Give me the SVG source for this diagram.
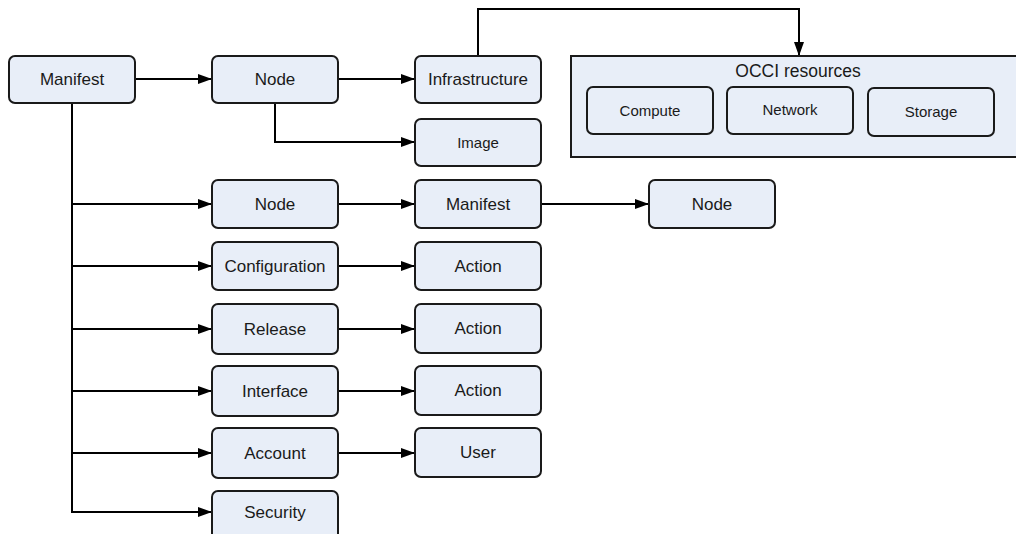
<svg xmlns="http://www.w3.org/2000/svg" width="1016" height="534" viewBox="0 0 1016 534">
<style>
.box{fill:#e8eef8;stroke:#1a1a1a;stroke-width:2}
.lbl{font-family:"Liberation Sans",Arial,sans-serif;font-size:17px;fill:#1a1a1a;text-anchor:middle;dominant-baseline:central}
.sm{font-size:15px}
.c{fill:none;stroke:#000;stroke-width:2}
</style>
<defs>
<marker id="ah" markerWidth="14" markerHeight="10" refX="13" refY="5" orient="auto" markerUnits="userSpaceOnUse">
<path d="M0,0 L14,5 L0,10 Z" fill="#000"/>
</marker>
</defs>
<rect x="0" y="0" width="1016" height="534" fill="#fff"/>
<g id="connectors">
<path class="c" d="M135,79 H211" marker-end="url(#ah)"/>
<path class="c" d="M338,79 H414" marker-end="url(#ah)"/>
<path class="c" d="M275,103 V142 H414" marker-end="url(#ah)"/>
<path class="c" d="M478,56 V9 H799 V55" marker-end="url(#ah)"/>
<path class="c" d="M72,103 V512 H211" marker-end="url(#ah)"/>
<path class="c" d="M72,204 H211" marker-end="url(#ah)"/>
<path class="c" d="M72,266 H211" marker-end="url(#ah)"/>
<path class="c" d="M72,329 H211" marker-end="url(#ah)"/>
<path class="c" d="M72,391 H211" marker-end="url(#ah)"/>
<path class="c" d="M72,453 H211" marker-end="url(#ah)"/>
<path class="c" d="M338,204 H414" marker-end="url(#ah)"/>
<path class="c" d="M541,204 H648" marker-end="url(#ah)"/>
<path class="c" d="M338,266 H414" marker-end="url(#ah)"/>
<path class="c" d="M338,329 H414" marker-end="url(#ah)"/>
<path class="c" d="M338,391 H414" marker-end="url(#ah)"/>
<path class="c" d="M338,453 H414" marker-end="url(#ah)"/>
</g>
<g id="manifest"><rect class="box" x="9" y="56" width="126" height="47" rx="6"/><text class="lbl" x="72" y="79.5">Manifest</text></g>
<g id="node1"><rect class="box" x="212" y="56" width="126" height="47" rx="6"/><text class="lbl" x="275" y="79.5">Node</text></g>
<g id="infrastructure"><rect class="box" x="415" y="56" width="126" height="47" rx="6"/><text class="lbl" x="478" y="79.5">Infrastructure</text></g>
<g id="image"><rect class="box" x="415" y="119" width="126" height="47" rx="6"/><text class="lbl sm" x="478" y="142.5">Image</text></g>
<g id="occi"><rect class="box" x="571" y="56" width="450" height="101"/><text class="lbl" x="798" y="71" style="font-size:17.5px">OCCI resources</text></g>
<g id="compute"><rect class="box" x="587" y="87" width="126" height="47" rx="6"/><text class="lbl sm" x="650" y="110.5">Compute</text></g>
<g id="network"><rect class="box" x="727" y="87" width="126" height="47" rx="6"/><text class="lbl sm" x="790" y="109.5">Network</text></g>
<g id="storage"><rect class="box" x="868" y="88" width="126" height="48" rx="6"/><text class="lbl sm" x="931" y="111.5">Storage</text></g>
<g id="node2"><rect class="box" x="212" y="180" width="126" height="48" rx="6"/><text class="lbl" x="275" y="204">Node</text></g>
<g id="manifest2"><rect class="box" x="415" y="180" width="126" height="48" rx="6"/><text class="lbl" x="478" y="204">Manifest</text></g>
<g id="node3"><rect class="box" x="649" y="180" width="126" height="48" rx="6"/><text class="lbl" x="712" y="204">Node</text></g>
<g id="configuration"><rect class="box" x="212" y="242" width="126" height="48" rx="6"/><text class="lbl" x="275" y="266">Configuration</text></g>
<g id="action1"><rect class="box" x="415" y="242" width="126" height="48" rx="6"/><text class="lbl" x="478" y="266">Action</text></g>
<g id="release"><rect class="box" x="212" y="304" width="126" height="50" rx="6"/><text class="lbl" x="275" y="329">Release</text></g>
<g id="action2"><rect class="box" x="415" y="304" width="126" height="49" rx="6"/><text class="lbl" x="478" y="328">Action</text></g>
<g id="interface"><rect class="box" x="212" y="366" width="126" height="50" rx="6"/><text class="lbl" x="275" y="391">Interface</text></g>
<g id="action3"><rect class="box" x="415" y="366" width="126" height="49" rx="6"/><text class="lbl" x="478" y="390">Action</text></g>
<g id="account"><rect class="box" x="212" y="428" width="126" height="50" rx="6"/><text class="lbl" x="275" y="453">Account</text></g>
<g id="user"><rect class="box" x="415" y="428" width="126" height="49" rx="6"/><text class="lbl" x="478" y="452">User</text></g>
<g id="security"><rect class="box" x="212" y="491" width="126" height="50" rx="6"/><text class="lbl" x="275" y="512">Security</text></g>
</svg>
